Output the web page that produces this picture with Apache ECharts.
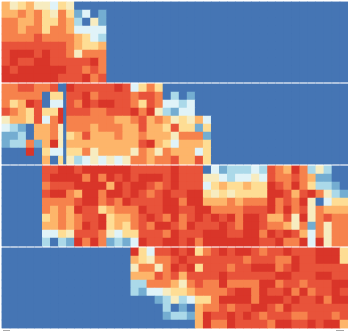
<!DOCTYPE html>
<html><head><meta charset="utf-8">
<style>html,body{margin:0;padding:0;background:#fff;overflow:hidden}#c{width:348px;height:331px;filter:blur(0.55px)}</style>
<script src="https://cdn.jsdelivr.net/npm/echarts@6/dist/echarts.min.js"></script>
</head><body><div id="c"></div>
<script>
const colorScale = ['#4575b4','#74add1','#abd9e9','#e0f3f8','#f7ecc0','#fedd94','#fdb56a','#f6824c','#e8533a','#d93529'];
const columns = Array.from({length:43},(_,i)=>i);
const rows = [0,1,2,3,4,5,6,7,8,9];
// one string per row, one digit per column (top row first); spaces only group digits
const panelA = [
 "6456443540000 0000000000 0000000000 0000000000",
 "6676754751301 0000000000 0000000000 0000000000",
 "7766755762041 0000000000 0000000000 0000000000",
 "7767757763333 0000000000 0000000000 0000000000",
 "7777877776532 0000000000 0000000000 0000000000",
 "8888888876556 0000000000 0000000000 0000000000",
 "8999898874777 0000000000 0000000000 0000000000",
 "8988998888897 0000000000 0000000000 0000000000",
 "9899999988787 0000000000 0000000000 0000000000",
 "9999999888978 0000000000 0000000000 0000000000"];
const panelB = [
 "77887780 988888 983575 00 0000000000 0000000000 000",
 "77777055 889788 887887 0201 0000000000 000000000",
 "75698033 879899 887587 332300 0000000000 0000000",
 "87658559 888778 889794 213300 0000000000 0000000",
 "46658379 777777 667867 645463 0000000000 0000000",
 "32106674 777677 766866 585515 0000000000 0000000",
 "11206674 568666 766766 647771 0000000000 0000000",
 "12271694 666666 666896 536665 0000000000 0000000",
 "00090533 557466 664764 766635 0000000000 0000000",
 "00000605 423434 347767 786685 0000000000 0000000"];
const stripeB = [0,0,0,0,0,0,0,0,0,0];
const panelC = [
 "00000 8899899999988 8889888 031222 328769724200",
 "00000 8999979798989 9989888 443233 438778761100",
 "00000 7888999969899 8789888 356556 559879752210",
 "00000 8997699799898 7898899 545455 559986897421",
 "00000 7777899787988 8899799 666767 779787940355",
 "00000 7676988567779 8899889 977778 889797847666",
 "00000 5676788956678 9879789 898979 986684947877",
 "00000 6676798956578 7998798 889879 987764717477",
 "00000 3354888743558 8879888 999889 979898637477",
 "00000 2021979712139 8899897 999999 988977939477"];
const panelD = [
 "0000000000000000 9538898957898 99878898889995",
 "0000000000000000 6547789888888 87888779889995",
 "0000000000000000 4774798958887 88999789888888",
 "0000000000000000 6668786888898 88888998889988",
 "0000000000000000 2277764787797 77799788788899",
 "0000000000000000 2133455677778 99798897978898",
 "0000000000000000 0001242355799 99799989889799",
 "0000000000000000 0000201067787 88998798888888",
 "0000000000000000 0000122169889 89878887788878",
 "0000000000000000 0000000069779 88887998898996"];
const panels = [panelA,panelB,panelC,panelD];
const gridTops = [2,84,166,248];
const cellW = 8.1, cellH = 8, gridLeft = 2;

function cells(p){const out=[];p.forEach((s,r)=>{[...s.replace(/ /g,'')].forEach((d,c)=>out.push([c,r,+d]));});return out;}
const grid=[],xAxis=[],yAxis=[],series=[];
const hide={show:false};
panels.forEach((p,i)=>{
  grid.push({left:gridLeft,top:gridTops[i],width:cellW*columns.length,height:cellH*rows.length});
  xAxis.push({type:'category',gridIndex:i,data:columns,axisLine:hide,axisTick:hide,axisLabel:hide,splitLine:hide});
  yAxis.push({type:'category',gridIndex:i,data:rows,inverse:true,axisLine:hide,axisTick:hide,axisLabel:hide,splitLine:hide});
  const d=cells(p);
  // drawn twice so that fractional cell edges leave no pale seams
  series.push({type:'heatmap',xAxisIndex:i,yAxisIndex:i,data:d,emphasis:{disabled:true},animation:false,progressive:0});
  series.push({type:'heatmap',xAxisIndex:i,yAxisIndex:i,data:d,emphasis:{disabled:true},animation:false,progressive:0});
});
grid.push({left:63.4,top:gridTops[1],width:2.6,height:cellH*rows.length});
xAxis.push({type:'category',gridIndex:4,data:[0],axisLine:hide,axisTick:hide,axisLabel:hide,splitLine:hide});
yAxis.push({type:'category',gridIndex:4,data:rows,inverse:true,axisLine:hide,axisTick:hide,axisLabel:hide,splitLine:hide});
series.push({type:'heatmap',xAxisIndex:4,yAxisIndex:4,data:stripeB.map((v,r)=>[0,r,v]),emphasis:{disabled:true},animation:false,progressive:0});

const chart=echarts.init(document.getElementById('c'),null,{renderer:'canvas'});
chart.setOption({animation:false,backgroundColor:'#fff',grid,xAxis,yAxis,series,
  visualMap:{show:false,min:0,max:9,seriesIndex:series.map((_,i)=>i),inRange:{color:colorScale}},
  graphic:[
    {type:'rect',shape:{x:3,y:330,width:7,height:1},style:{fill:'#aaa'}},
    {type:'rect',shape:{x:336,y:330,width:8,height:1},style:{fill:'#aaa'}}
  ]});
</script></body></html>
